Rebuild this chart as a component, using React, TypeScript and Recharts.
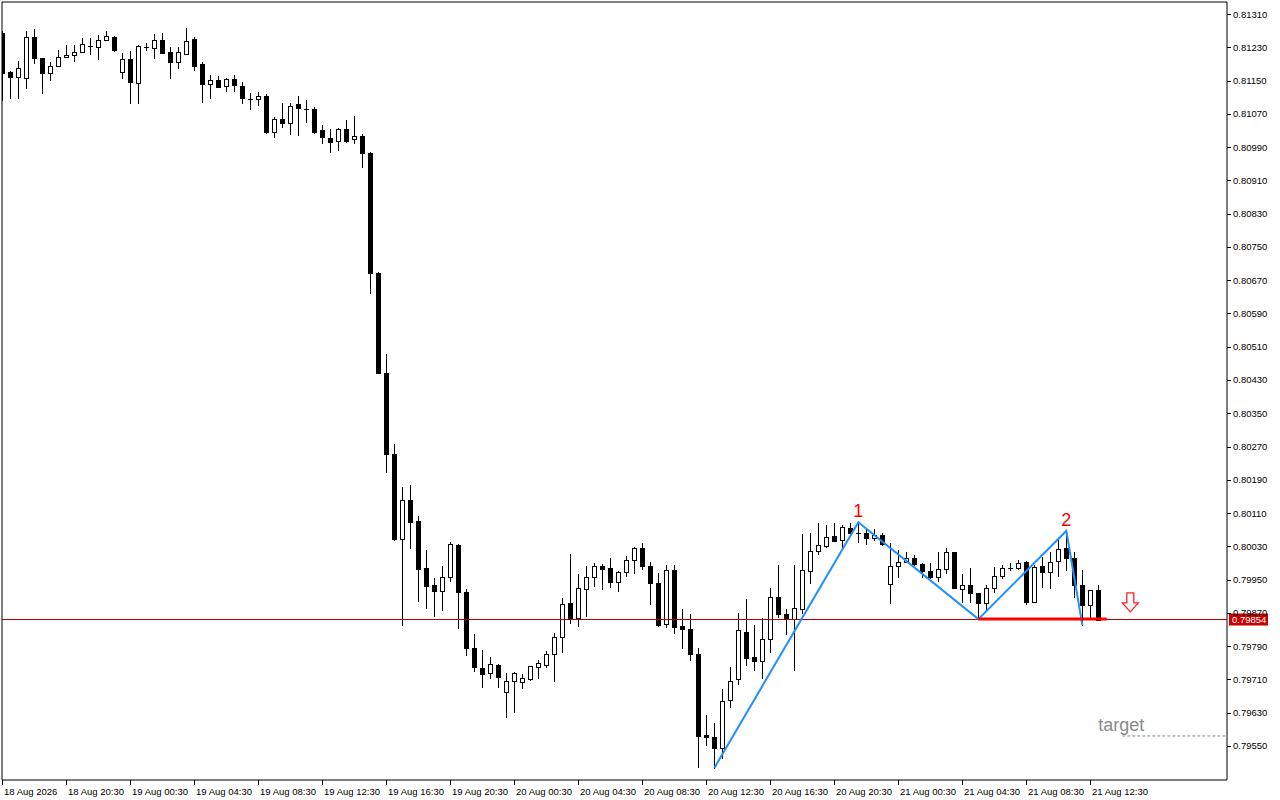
import React from 'react';
import {
  ComposedChart, Bar, Line, XAxis, YAxis, ReferenceLine, ReferenceDot, ReferenceArea,
} from 'recharts';

// ---- data (30-minute candles, 18 Aug 16:30 .. 21 Aug 13:00) ----
const open = [
  0.81264, 0.81171, 0.81159, 0.81156, 0.81255, 0.81204, 0.81168, 0.81185, 0.81207, 0.81211,
  0.81219, 0.81233, 0.81231, 0.81247, 0.81255, 0.81171, 0.81202, 0.81144, 0.81231, 0.81228,
  0.81247, 0.81219, 0.81195, 0.81214, 0.81250, 0.81190, 0.81142, 0.81151, 0.81137, 0.81154,
  0.81137, 0.81106, 0.81106, 0.81113, 0.81026, 0.81058, 0.81048, 0.81094, 0.81082, 0.81082,
  0.81031, 0.81012, 0.81005, 0.81033, 0.81009, 0.81017, 0.80976, 0.80687, 0.80447, 0.80252,
  0.80048, 0.80141, 0.80091, 0.79978, 0.79937, 0.79923, 0.79956, 0.80033, 0.79920, 0.79785,
  0.79737, 0.79725, 0.79745, 0.79680, 0.79706, 0.79704, 0.79711, 0.79740, 0.79745, 0.79771,
  0.79812, 0.79894, 0.79858, 0.79927, 0.79956, 0.79983, 0.79978, 0.79944, 0.79968, 0.79997,
  0.80026, 0.79983, 0.79942, 0.79843, 0.79973, 0.79838, 0.79831, 0.79771, 0.79576, 0.79571,
  0.79545, 0.79660, 0.79711, 0.79824, 0.79764, 0.79754, 0.79807, 0.79908, 0.79867, 0.79855,
  0.79879, 0.79971, 0.80019, 0.80031, 0.80055, 0.80045, 0.80074, 0.80062, 0.80062, 0.80050,
  0.80057, 0.79939, 0.79983, 0.79992, 0.80002, 0.79987, 0.79971, 0.79956, 0.79975, 0.80016,
  0.79927, 0.79937, 0.79918, 0.79894, 0.79930, 0.79959, 0.79978, 0.79978, 0.79992, 0.79896,
  0.79983, 0.79968, 0.79995, 0.80026, 0.80002, 0.79937, 0.79889, 0.79925,
];
const high = [
  0.81269, 0.81173, 0.81197, 0.81269, 0.81274, 0.81204, 0.81195, 0.81223, 0.81235, 0.81235,
  0.81252, 0.81252, 0.81260, 0.81269, 0.81257, 0.81216, 0.81221, 0.81235, 0.81240, 0.81262,
  0.81264, 0.81231, 0.81231, 0.81276, 0.81255, 0.81195, 0.81163, 0.81161, 0.81156, 0.81163,
  0.81146, 0.81120, 0.81122, 0.81118, 0.81062, 0.81096, 0.81096, 0.81113, 0.81103, 0.81086,
  0.81043, 0.81033, 0.81036, 0.81055, 0.81065, 0.81021, 0.80978, 0.80690, 0.80492, 0.80276,
  0.80173, 0.80177, 0.80103, 0.80021, 0.79954, 0.79983, 0.80040, 0.80036, 0.79927, 0.79819,
  0.79781, 0.79764, 0.79747, 0.79725, 0.79728, 0.79723, 0.79742, 0.79757, 0.79778, 0.79822,
  0.79906, 0.80012, 0.79963, 0.79983, 0.79990, 0.79987, 0.80002, 0.79971, 0.80007, 0.80028,
  0.80038, 0.79992, 0.79966, 0.79985, 0.79985, 0.79879, 0.79867, 0.79785, 0.79624, 0.79605,
  0.79687, 0.79740, 0.79870, 0.79903, 0.79841, 0.79858, 0.79930, 0.79985, 0.79879, 0.79985,
  0.80060, 0.80062, 0.80086, 0.80081, 0.80086, 0.80081, 0.80086, 0.80088, 0.80072, 0.80072,
  0.80062, 0.80038, 0.80021, 0.80016, 0.80009, 0.79990, 0.79990, 0.80016, 0.80026, 0.80016,
  0.79963, 0.79978, 0.79918, 0.79937, 0.79980, 0.79985, 0.79990, 0.79997, 0.79995, 0.79985,
  0.80004, 0.80016, 0.80050, 0.80067, 0.80016, 0.79973, 0.79925, 0.79937,
];
const low = [
  0.81103, 0.81108, 0.81108, 0.81132, 0.81192, 0.81120, 0.81151, 0.81185, 0.81207, 0.81197,
  0.81219, 0.81214, 0.81202, 0.81247, 0.81221, 0.81156, 0.81096, 0.81096, 0.81223, 0.81204,
  0.81216, 0.81156, 0.81180, 0.81214, 0.81175, 0.81098, 0.81108, 0.81134, 0.81125, 0.81125,
  0.81096, 0.81082, 0.81091, 0.81024, 0.81014, 0.81038, 0.81021, 0.81019, 0.81050, 0.81024,
  0.81000, 0.80978, 0.80983, 0.81002, 0.81000, 0.80942, 0.80639, 0.80447, 0.80209, 0.80045,
  0.79841, 0.80026, 0.79898, 0.79882, 0.79862, 0.79877, 0.79947, 0.79834, 0.79769, 0.79730,
  0.79692, 0.79713, 0.79692, 0.79620, 0.79632, 0.79689, 0.79709, 0.79713, 0.79740, 0.79706,
  0.79776, 0.79846, 0.79838, 0.79862, 0.79935, 0.79927, 0.79932, 0.79923, 0.79959, 0.79966,
  0.79975, 0.79891, 0.79838, 0.79836, 0.79822, 0.79785, 0.79757, 0.79499, 0.79552, 0.79497,
  0.79521, 0.79644, 0.79699, 0.79745, 0.79733, 0.79713, 0.79776, 0.79860, 0.79819, 0.79733,
  0.79870, 0.79942, 0.80012, 0.80028, 0.80043, 0.80026, 0.80062, 0.80040, 0.80036, 0.80045,
  0.80033, 0.79894, 0.79956, 0.79992, 0.79985, 0.79956, 0.79954, 0.79947, 0.79966, 0.79930,
  0.79896, 0.79896, 0.79855, 0.79874, 0.79920, 0.79954, 0.79973, 0.79975, 0.79891, 0.79896,
  0.79932, 0.79930, 0.79959, 0.79973, 0.79908, 0.79841, 0.79860, 0.79854,
];
const close = [
  0.81168, 0.81159, 0.81180, 0.81255, 0.81204, 0.81168, 0.81185, 0.81207, 0.81211, 0.81219,
  0.81238, 0.81233, 0.81247, 0.81257, 0.81223, 0.81202, 0.81146, 0.81233, 0.81231, 0.81247,
  0.81216, 0.81195, 0.81219, 0.81245, 0.81185, 0.81142, 0.81151, 0.81134, 0.81154, 0.81139,
  0.81108, 0.81106, 0.81113, 0.81026, 0.81058, 0.81048, 0.81089, 0.81084, 0.81082, 0.81026,
  0.81014, 0.81002, 0.81033, 0.81005, 0.81017, 0.80976, 0.80687, 0.80447, 0.80252, 0.80048,
  0.80141, 0.80088, 0.79975, 0.79935, 0.79923, 0.79956, 0.80036, 0.79920, 0.79785, 0.79740,
  0.79723, 0.79747, 0.79716, 0.79706, 0.79725, 0.79713, 0.79742, 0.79749, 0.79771, 0.79812,
  0.79891, 0.79855, 0.79930, 0.79956, 0.79983, 0.79975, 0.79944, 0.79968, 0.79997, 0.80026,
  0.79983, 0.79942, 0.79841, 0.79973, 0.79836, 0.79831, 0.79771, 0.79574, 0.79571, 0.79545,
  0.79658, 0.79706, 0.79829, 0.79761, 0.79754, 0.79807, 0.79908, 0.79867, 0.79855, 0.79882,
  0.79973, 0.80019, 0.80033, 0.80052, 0.80043, 0.80076, 0.80062, 0.80062, 0.80050, 0.80057,
  0.80036, 0.79983, 0.79992, 0.80002, 0.79987, 0.79971, 0.79956, 0.79975, 0.80016, 0.79930,
  0.79937, 0.79918, 0.79894, 0.79930, 0.79959, 0.79978, 0.79978, 0.79990, 0.79896, 0.79980,
  0.79968, 0.79992, 0.80024, 0.80002, 0.79937, 0.79889, 0.79925, 0.79854,
];

// zigzag pivots (bar index, price)
const zigzagIndex = [89, 107, 122, 133, 135];
const zigzagPrice = [0.79497, 0.80088, 0.79855, 0.80067, 0.79841];
const pivotLabels = [
  { i: 107, price: 0.80088, text: '1' },
  { i: 133, price: 0.80067, text: '2' },
];

const currentPrice = 0.79854;
const necklinePrice = 0.79855;
const necklineFrom = 122;
const necklineTo = 138.05;
const targetPrice = 0.79574;
const targetFrom = 140;
const arrowIndex = 141;
const arrowPrice = 0.79894;

// axis ticks
const timeTicks = [0, 8, 16, 24, 32, 40, 48, 56, 64, 72, 80, 88, 96, 104, 112, 120, 128, 136];
const timeLabels = [
  '18 Aug 2026', '18 Aug 20:30', '19 Aug 00:30', '19 Aug 04:30', '19 Aug 08:30', '19 Aug 12:30',
  '19 Aug 16:30', '19 Aug 20:30', '20 Aug 00:30', '20 Aug 04:30', '20 Aug 08:30', '20 Aug 12:30',
  '20 Aug 16:30', '20 Aug 20:30', '21 Aug 00:30', '21 Aug 04:30', '21 Aug 08:30', '21 Aug 12:30',
];
const priceTicks = [
  0.79550, 0.79630, 0.79710, 0.79790, 0.79870, 0.79950, 0.80030, 0.80110, 0.80190, 0.80270,
  0.80350, 0.80430, 0.80510, 0.80590, 0.80670, 0.80750, 0.80830, 0.80910, 0.80990, 0.81070,
  0.81150, 0.81230, 0.81310,
];

const X_MIN = -0.04;
const X_MAX = 153.085;
const Y_MIN = 0.794681;
const Y_MAX = 0.813389;

const data = open.map((o, i) => {
  const zi = zigzagIndex.indexOf(i);
  return {
    i,
    o,
    h: high[i],
    l: low[i],
    c: close[i],
    zz: zi >= 0 ? zigzagPrice[zi] : null,
  };
});

const FONT = '"Liberation Sans", Arial, sans-serif';

const Candle = (props: any) => {
  const { x, y, width, height, payload } = props;
  if (!payload || height == null) return null;
  const { o, h, l, c } = payload;
  const k = h - l > 0 ? height / (h - l) : 0;
  const cx = Math.round(x + width / 2) + 0.5;
  const yO = y + (h - o) * k;
  const yC = y + (h - c) * k;
  const top = Math.round(Math.min(yO, yC)) + 0.5;
  const bot = Math.round(Math.max(yO, yC)) + 0.5;
  const bull = c >= o;
  return (
    <g shapeRendering="crispEdges">
      <line x1={cx} x2={cx} y1={Math.round(y)} y2={Math.round(y + height) + 1} stroke="#000" strokeWidth={1} />
      {bot - top < 1 ? (
        <line x1={cx - 2.5} x2={cx + 2.5} y1={top} y2={top} stroke="#000" strokeWidth={1} />
      ) : (
        <rect x={cx - 2} y={top} width={4} height={bot - top} fill={bull ? '#fff' : '#000'} stroke="#000" strokeWidth={1} />
      )}
    </g>
  );
};

const XTick = (props: any) => {
  const { x, y, payload } = props;
  const idx = timeTicks.indexOf(payload.value);
  const px = Math.round(x) + 0.5;
  return (
    <g>
      <line x1={px} x2={px} y1={y} y2={y + 5} stroke="#000" shapeRendering="crispEdges" />
      <text x={px + 1.5} y={y + 15} fontSize={9.5} fontFamily={FONT} fill="#000" textAnchor="start">
        {idx >= 0 ? timeLabels[idx] : ''}
      </text>
    </g>
  );
};

const YTick = (props: any) => {
  const { x, y, payload } = props;
  const py = Math.round(y) + 0.5;
  return (
    <g>
      <line x1={x} x2={x + 4} y1={py} y2={py} stroke="#000" shapeRendering="crispEdges" />
      <text x={x + 6} y={y + 3.5} fontSize={9.5} fontFamily={FONT} fill="#000" textAnchor="start">
        {payload.value.toFixed(5)}
      </text>
    </g>
  );
};

const PriceLabel = (props: any) => {
  const vb = props.viewBox || {};
  const rx = vb.x + vb.width + 2;
  const y = vb.y;
  return (
    <g>
      <rect x={rx} y={y - 6} width={39} height={12} fill="#c80000" />
      <text x={rx + 3} y={y + 3.5} fontSize={9.5} fontFamily={FONT} fill="#fff">
        {currentPrice.toFixed(5)}
      </text>
    </g>
  );
};

const PivotText = (text: string, dy: number) => (props: any) => {
  const { cx, cy } = props;
  return (
    <text x={cx} y={cy + dy} fontSize={18} fontFamily={FONT} fill="#ff0000" textAnchor="middle">
      {text}
    </text>
  );
};

const ArrowShape = (props: any) => {
  const { cx, cy } = props;
  const pts = [
    [cx - 3.5, cy - 10], [cx + 3.5, cy - 10], [cx + 3.5, cy], [cx + 8, cy],
    [cx, cy + 9], [cx - 8, cy], [cx - 3.5, cy],
  ].map((p) => p.join(',')).join(' ');
  return <polygon points={pts} fill="#fff" stroke="#ff2020" strokeWidth={1.3} />;
};

const TargetText = (props: any) => {
  const { cx, cy } = props;
  return (
    <text x={cx - 24} y={cy - 5} fontSize={18} fontFamily={FONT} fill="#8a8a8a">
      target
    </text>
  );
};

export default function App() {
  return (
    <div style={{ position: 'absolute', left: 0, top: 0, width: 1280, height: 800, background: '#fff' }}>
      <ComposedChart
        width={1280}
        height={800}
        data={data}
        margin={{ top: 2, right: 0, bottom: 0, left: 2 }}
        style={{ fontFamily: FONT }}
      >
        <XAxis
          dataKey="i"
          type="number"
          domain={[X_MIN, X_MAX]}
          allowDataOverflow
          ticks={timeTicks}
          interval={0}
          height={20}
          tickSize={0}
          tickMargin={0}
          tickLine={false}
          axisLine={false}
          tick={<XTick />}
        />
        <YAxis
          orientation="right"
          type="number"
          domain={[Y_MIN, Y_MAX]}
          allowDataOverflow
          ticks={priceTicks}
          interval={0}
          width={53}
          tickSize={0}
          tickMargin={0}
          tickLine={false}
          axisLine={false}
          tick={<YTick />}
        />
        <ReferenceArea
          x1={X_MIN}
          x2={X_MAX}
          y1={Y_MIN}
          y2={Y_MAX}
          fill="none"
          fillOpacity={0}
          stroke="#000"
          strokeWidth={1}
          ifOverflow="visible"
        />
        <ReferenceLine y={currentPrice} stroke="#b40000" strokeWidth={1} ifOverflow="visible" label={<PriceLabel />} />
        <Bar
          dataKey={(d: any) => [d.l, d.h]}
          barSize={5}
          shape={<Candle />}
          isAnimationActive={false}
        />
        <Line
          dataKey="zz"
          type="linear"
          stroke="#1e90ff"
          strokeWidth={2}
          dot={false}
          activeDot={false}
          connectNulls
          isAnimationActive={false}
        />
        <ReferenceLine
          segment={[{ x: necklineFrom, y: necklinePrice }, { x: necklineTo, y: necklinePrice }]}
          stroke="#ff0000"
          strokeWidth={3}
          ifOverflow="visible"
        />
        <ReferenceLine
          segment={[{ x: targetFrom, y: targetPrice }, { x: X_MAX, y: targetPrice }]}
          stroke="#8a8a8a"
          strokeWidth={1}
          strokeDasharray="3 2"
          ifOverflow="visible"
        />
        {pivotLabels.map((p) => (
          <ReferenceDot key={p.text} x={p.i} y={p.price} r={0} ifOverflow="visible" shape={PivotText(p.text, p.text === '1' ? -5 : -4.5)} />
        ))}
        <ReferenceDot x={arrowIndex} y={arrowPrice} r={0} ifOverflow="visible" shape={ArrowShape} />
        <ReferenceDot x={targetFrom} y={targetPrice} r={0} ifOverflow="visible" shape={TargetText} />
      </ComposedChart>
    </div>
  );
}
